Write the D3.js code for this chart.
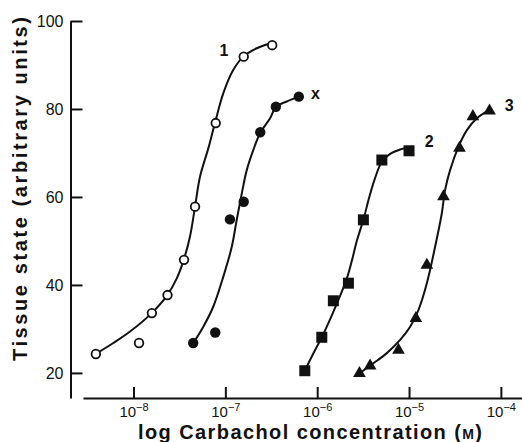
<!DOCTYPE html>
<html lang="en">
<head>
  <meta charset="UTF-8">
  <title>Carbachol concentration-response</title>
  <style>
    * { margin: 0; }
    body { background: #fff; font-family: "Liberation Sans", Arial, Helvetica, sans-serif; }
    svg { display: block; }
    .axis path, .axis line { stroke: #111; stroke-width: 2; }
    .axis text { fill: #111; }
    .curve { fill: none; stroke: #111; stroke-width: 2; }
    .title { font-size: 20px; font-weight: bold; fill: #111; }
    .label { font-size: 16px; font-weight: bold; fill: #111; }
  </style>
</head>
<body>
  <div id="chart"></div>
  <script src="https://cdnjs.cloudflare.com/ajax/libs/d3/7.8.5/d3.min.js"></script>
  <script>
    // x values are log10 of molar carbachol concentration
    const xTickExps = [-8, -7, -6, -5, -4];
    const yTicks = [20, 40, 60, 80, 100];

    // measured points
    const s1X = [-8.41, -7.94, -7.80, -7.63, -7.45, -7.33, -7.105, -6.80, -6.49];
    const s1Y = [24.3, 26.8, 33.6, 37.7, 45.7, 57.8, 76.8, 91.9, 94.5];
    const sxX = [-7.35, -7.11, -6.95, -6.80, -6.62, -6.45, -6.20];
    const sxY = [26.8, 29.2, 54.9, 58.9, 74.7, 80.5, 82.8];
    const s2X = [-6.135, -5.95, -5.824, -5.66, -5.497, -5.296, -5.0];
    const s2Y = [20.5, 28.1, 36.4, 40.4, 54.8, 68.4, 70.5];
    const s3X = [-5.54, -5.424, -5.115, -4.926, -4.806, -4.625, -4.451, -4.305, -4.124];
    const s3Y = [19.9, 21.6, 25.2, 32.4, 44.5, 60.1, 71.1, 78.3, 79.6];

    // hand-drawn fitted curves
    const c1X = [-8.412, -8.22, -8.038, -7.802, -7.632, -7.529, -7.453, -7.385, -7.33, -7.276, -7.185, -7.112, -7.022, -6.913, -6.804, -6.658, -6.513];
    const c1Y = [24.3, 26.8, 29.4, 33.6, 37.7, 41.5, 45.7, 51.0, 57.8, 64.6, 71.1, 76.9, 83.6, 88.9, 91.9, 93.8, 94.9];
    const cxX = [-7.355, -7.24, -7.131, -7.022, -6.93, -6.876, -6.821, -6.767, -6.695, -6.622, -6.513, -6.448, -6.331, -6.2];
    const cxY = [26.6, 30.5, 35.1, 41.9, 48.7, 54.8, 60.8, 66.1, 70.7, 74.5, 77.9, 80.5, 81.7, 82.8];
    const c2X = [-6.132, -6.045, -5.95, -5.849, -5.751, -5.675, -5.62, -5.566, -5.497, -5.435, -5.37, -5.296, -5.206, -5.097, -4.999];
    const c2Y = [20.6, 24.3, 28.1, 32.7, 37.5, 41.6, 45.7, 50.2, 54.8, 59.8, 64.3, 68.0, 69.8, 70.8, 71.3];
    const c3X = [-5.54, -5.388, -5.242, -5.097, -4.988, -4.898, -4.806, -4.716, -4.643, -4.607, -4.553, -4.462, -4.37, -4.261, -4.124];
    const c3Y = [19.9, 22.2, 24.5, 27.5, 30.5, 34.3, 40.4, 48.7, 56.3, 61.6, 66.1, 71.4, 75.2, 77.9, 79.8];

    const labelNames = ['1', 'x', '2', '3'];
    const labelX = [-7.014, -6.02, -4.781, -3.91];
    const labelY = [93.2, 83.6, 72.5, 80.9];

    const width = 522, height = 442;

    const svg = d3.select('#chart')
      .append('svg')
      .attr('width', width)
      .attr('height', height);

    const x = d3.scaleLinear().domain([-8.55, -3.77]).range([83, 522]);
    const y = d3.scaleLinear().domain([14.3, 100]).range([398, 21]);

    // x axis: ticks point up, labels are powers of ten
    const gx = svg.append('g')
      .attr('class', 'axis')
      .attr('transform', 'translate(0,398)')
      .call(d3.axisBottom(x)
        .tickValues(xTickExps)
        .tickSizeInner(-11)
        .tickSizeOuter(0)
        .tickFormat(''));

    gx.selectAll('.tick text').remove();
    gx.selectAll('.tick').append('text')
      .attr('y', 18.5)
      .attr('text-anchor', 'middle')
      .style('font-size', '15px')
      .each(function (d) {
        const t = d3.select(this);
        t.append('tspan').text('10');
        t.append('tspan')
          .attr('dy', -6)
          .style('font-size', '11px')
          .text('\u2212' + Math.abs(d));
      });

    // y axis: ticks point right
    svg.append('g')
      .attr('class', 'axis')
      .attr('transform', 'translate(70.5,0)')
      .call(d3.axisLeft(y)
        .tickValues(yTicks)
        .tickSizeInner(-12)
        .tickSizeOuter(0)
        .tickPadding(7))
      .selectAll('text')
      .style('font-size', '16px');

    svg.selectAll('.axis text').attr('font-family', null);

    const line = d3.line()
      .x(d => x(d[0]))
      .y(d => y(d[1]))
      .curve(d3.curveCatmullRom);

    const curves = [[c1X, c1Y], [cxX, cxY], [c2X, c2Y], [c3X, c3Y]];
    svg.selectAll('path.curve')
      .data(curves.map(c => d3.zip(c[0], c[1])))
      .enter().append('path')
      .attr('class', 'curve')
      .attr('d', line);

    // markers
    svg.append('g').selectAll('circle')
      .data(d3.zip(s1X, s1Y))
      .enter().append('circle')
      .attr('cx', d => x(d[0]))
      .attr('cy', d => y(d[1]))
      .attr('r', 4.3)
      .attr('fill', '#fff')
      .attr('stroke', '#111')
      .attr('stroke-width', 1.8);

    svg.append('g').selectAll('circle')
      .data(d3.zip(sxX, sxY))
      .enter().append('circle')
      .attr('cx', d => x(d[0]))
      .attr('cy', d => y(d[1]))
      .attr('r', 5.2)
      .attr('fill', '#111');

    svg.append('g').selectAll('path')
      .data(d3.zip(s2X, s2Y))
      .enter().append('path')
      .attr('transform', d => `translate(${x(d[0])},${y(d[1])})`)
      .attr('d', d3.symbol(d3.symbolSquare, 121))
      .attr('fill', '#111');

    svg.append('g').selectAll('path')
      .data(d3.zip(s3X, s3Y))
      .enter().append('path')
      .attr('transform', d => `translate(${x(d[0])},${y(d[1])})`)
      .attr('d', d3.symbol(d3.symbolTriangle, 70))
      .attr('fill', '#111');

    // series labels
    svg.append('g').selectAll('text')
      .data(labelNames)
      .enter().append('text')
      .attr('class', 'label')
      .attr('x', (d, i) => x(labelX[i]))
      .attr('y', (d, i) => y(labelY[i]))
      .attr('text-anchor', 'middle')
      .attr('dominant-baseline', 'central')
      .text(d => d);

    // axis titles, spread out like the printed figure
    const xt = svg.append('text')
      .attr('class', 'title')
      .attr('x', 310)
      .attr('y', 438.5)
      .attr('text-anchor', 'middle')
      .attr('textLength', 344)
      .attr('lengthAdjust', 'spacing');
    xt.append('tspan').text('log Carbachol concentration (');
    xt.append('tspan').style('font-size', '14px').text('M');
    xt.append('tspan').text(')');

    svg.append('text')
      .attr('class', 'title')
      .attr('transform', 'translate(27,189) rotate(-90)')
      .attr('text-anchor', 'middle')
      .attr('textLength', 344)
      .attr('lengthAdjust', 'spacing')
      .text('Tissue state (arbitrary units)');
  </script>
</body>
</html>
